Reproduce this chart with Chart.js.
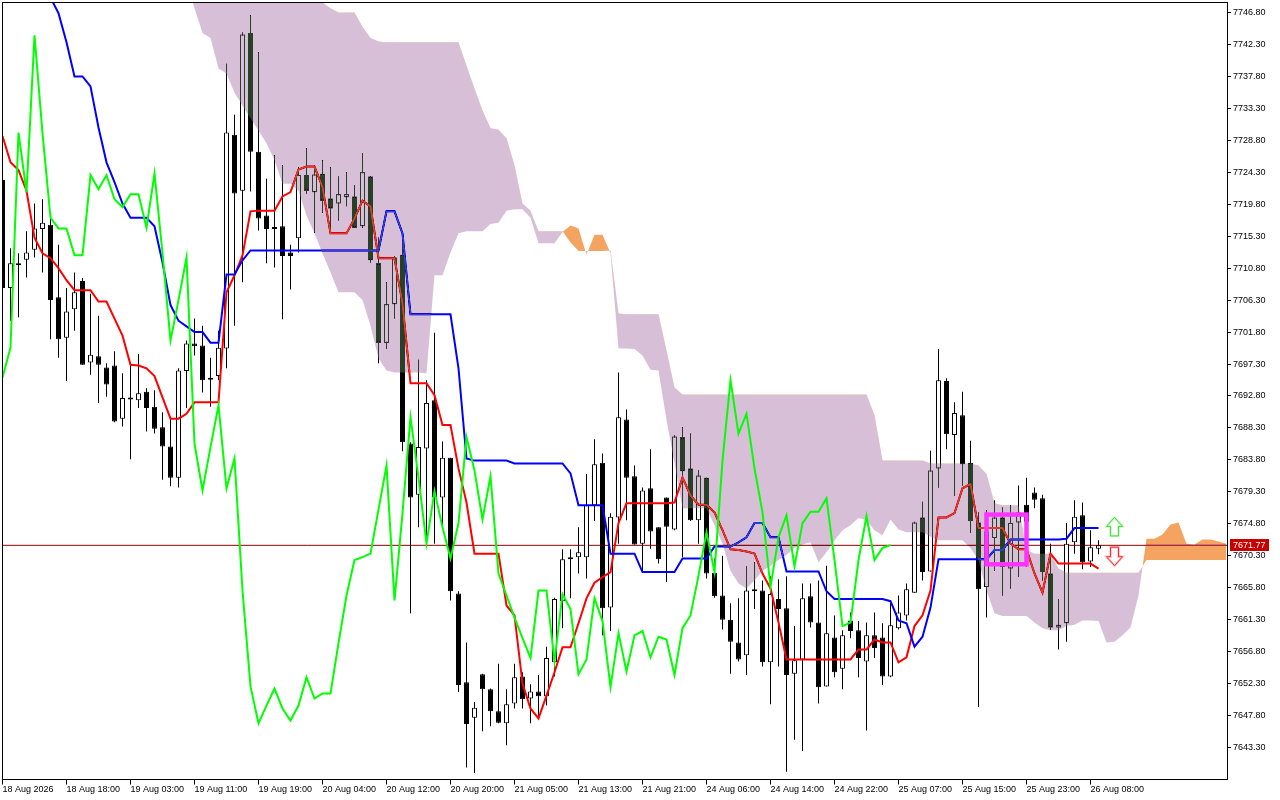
<!DOCTYPE html>
<html>
<head>
<meta charset="utf-8">
<style>
  html, body { margin: 0; padding: 0; background: #fff; }
  canvas { display: block; }
</style>
<script src="https://cdn.jsdelivr.net/npm/chart.js@4"></script>
</head>
<body>
<canvas id="graphique" width="1280" height="800"></canvas>
<script>
const timeLabels = ["18 Aug 2026", "18 Aug 18:00", "19 Aug 03:00", "19 Aug 11:00", "19 Aug 19:00", "20 Aug 04:00", "20 Aug 12:00", "20 Aug 20:00", "21 Aug 05:00", "21 Aug 13:00", "21 Aug 21:00", "24 Aug 06:00", "24 Aug 14:00", "24 Aug 22:00", "25 Aug 07:00", "25 Aug 15:00", "25 Aug 23:00", "26 Aug 08:00"];
const barsPerLabel = 8;
const priceTicks = [7746.8, 7742.3, 7737.8, 7733.3, 7728.8, 7724.3, 7719.8, 7715.3, 7710.8, 7706.3, 7701.8, 7697.3, 7692.8, 7688.3, 7683.8, 7679.3, 7674.8, 7670.3, 7665.8, 7661.3, 7656.8, 7652.3, 7647.8, 7643.3];
const lastPrice = 7671.77;

const opens = [
  7723.2, 7708.0, 7711.3, 7712.0, 7713.4, 7716.3, 7716.9, 7706.7, 7701.0, 7705.0,
  7709.0, 7697.5, 7698.4, 7696.8, 7697.1, 7689.6, 7692.6, 7692.2, 7693.4, 7691.3,
  7688.4, 7685.7, 7681.3, 7696.3, 7700.2, 7699.9, 7695.3, 7695.6, 7699.5, 7729.6,
  7721.7, 7743.9, 7727.2, 7718.2, 7716.5, 7716.7, 7713.0, 7715.0, 7723.9, 7721.5,
  7724.1, 7720.6, 7719.9, 7720.8, 7720.9, 7716.7, 7723.7, 7711.5, 7700.3, 7705.7,
  7712.7, 7686.1, 7678.9, 7685.4, 7692.2, 7678.5, 7684.1, 7665.0, 7652.5, 7647.5,
  7653.6, 7651.5, 7648.4, 7646.7, 7649.5, 7653.3, 7650.2, 7651.2, 7650.5, 7655.3,
  7663.9, 7669.8, 7670.1, 7670.1, 7677.4, 7683.4, 7663.0, 7675.7, 7689.5, 7681.5,
  7672.0, 7679.8, 7674.3, 7678.5, 7674.0, 7687.0, 7682.6, 7675.3, 7681.3, 7667.9,
  7664.7, 7661.3, 7658.1, 7656.3, 7665.4, 7665.4, 7655.3, 7664.2, 7662.9, 7653.7,
  7655.7, 7664.6, 7660.9, 7651.9, 7658.8, 7654.4, 7661.2, 7659.8, 7655.4, 7659.1,
  7658.8, 7653.3, 7660.1, 7661.9, 7665.1, 7675.7, 7668.1, 7682.6, 7694.9, 7687.3,
  7690.1, 7683.4, 7675.0, 7665.9, 7672.8, 7675.7, 7668.5, 7675.0, 7677.5, 7679.2,
  7678.4, 7667.8, 7660.2, 7660.8, 7672.2, 7676.0, 7669.5, 7671.3
];
const closes = [
  7708.0, 7711.5, 7711.2, 7713.0, 7716.4, 7717.2, 7706.3, 7700.8, 7704.7, 7707.4,
  7697.2, 7698.6, 7697.2, 7694.4, 7689.2, 7692.5, 7692.3, 7693.2, 7691.1, 7688.2,
  7685.7, 7681.3, 7696.4, 7700.2, 7699.8, 7695.0, 7695.1, 7699.6, 7729.9, 7721.3,
  7743.7, 7727.2, 7717.8, 7716.3, 7716.3, 7712.5, 7712.5, 7723.9, 7721.7, 7724.0,
  7720.3, 7719.2, 7721.2, 7721.2, 7716.5, 7724.3, 7711.9, 7700.3, 7705.7, 7712.3,
  7686.3, 7678.5, 7685.6, 7691.8, 7678.5, 7684.1, 7665.3, 7652.1, 7646.6, 7648.9,
  7651.5, 7648.4, 7646.8, 7649.4, 7653.2, 7650.1, 7651.2, 7650.5, 7655.9, 7664.2,
  7669.8, 7670.1, 7670.8, 7677.4, 7683.2, 7662.9, 7675.8, 7689.8, 7681.3, 7671.9,
  7679.5, 7673.7, 7669.8, 7674.4, 7687.1, 7682.2, 7675.3, 7681.6, 7667.8, 7664.6,
  7661.3, 7658.2, 7655.7, 7665.4, 7665.3, 7655.3, 7664.9, 7662.8, 7653.5, 7655.6,
  7664.3, 7660.9, 7651.8, 7659.4, 7653.9, 7659.1, 7659.7, 7655.9, 7659.1, 7657.3,
  7653.3, 7660.5, 7662.3, 7665.6, 7675.0, 7668.0, 7682.3, 7695.0, 7687.4, 7690.4,
  7683.2, 7675.2, 7665.6, 7673.7, 7675.7, 7668.7, 7674.9, 7676.4, 7675.1, 7678.2,
  7668.0, 7660.2, 7660.6, 7672.0, 7675.8, 7669.4, 7671.5, 7671.77
];
const highs = [
  7723.2, 7713.6, 7712.9, 7716.0, 7719.9, 7720.5, 7717.8, 7714.1, 7708.0, 7710.2,
  7709.4, 7707.2, 7704.1, 7697.4, 7699.1, 7696.0, 7697.5, 7698.7, 7693.9, 7693.6,
  7690.5, 7689.6, 7696.7, 7700.6, 7703.7, 7702.7, 7698.2, 7702.0, 7739.6, 7732.4,
  7744.0, 7746.4, 7741.2, 7723.4, 7726.7, 7725.3, 7714.1, 7725.0, 7727.7, 7725.3,
  7726.0, 7725.0, 7723.7, 7724.3, 7722.5, 7727.0, 7723.7, 7715.1, 7708.8, 7712.5,
  7714.3, 7686.3, 7697.9, 7695.0, 7701.7, 7686.4, 7684.1, 7665.3, 7658.1, 7649.7,
  7653.7, 7651.6, 7655.1, 7651.5, 7655.1, 7653.9, 7652.2, 7653.5, 7657.5, 7664.4,
  7671.2, 7671.2, 7674.3, 7681.8, 7686.7, 7684.7, 7676.3, 7696.1, 7690.9, 7683.0,
  7679.9, 7685.3, 7674.3, 7678.5, 7687.3, 7688.4, 7687.5, 7682.3, 7681.3, 7669.9,
  7670.3, 7663.6, 7664.3, 7668.8, 7669.4, 7666.8, 7667.4, 7667.0, 7667.4, 7660.4,
  7666.4, 7666.4, 7666.8, 7668.9, 7661.9, 7659.8, 7662.3, 7661.1, 7660.9, 7662.3,
  7660.8, 7663.6, 7664.7, 7666.4, 7675.1, 7677.9, 7685.1, 7699.4, 7695.3, 7691.9,
  7693.4, 7686.5, 7676.4, 7676.7, 7678.1, 7677.1, 7677.4, 7680.2, 7681.3, 7679.9,
  7678.9, 7672.0, 7664.2, 7674.9, 7678.1, 7677.8, 7673.9, 7672.5
];
const lows = [
  7707.7, 7703.4, 7703.9, 7709.5, 7712.3, 7710.2, 7700.8, 7698.2, 7694.9, 7702.0,
  7697.2, 7695.8, 7691.8, 7692.7, 7689.1, 7688.5, 7683.9, 7691.1, 7687.8, 7687.5,
  7681.0, 7680.1, 7679.9, 7691.1, 7698.5, 7693.3, 7691.3, 7695.0, 7696.7, 7702.7,
  7708.8, 7721.6, 7716.1, 7711.5, 7710.9, 7703.6, 7707.8, 7713.0, 7721.3, 7715.8,
  7718.6, 7716.5, 7717.5, 7719.5, 7716.5, 7716.5, 7711.6, 7697.4, 7699.4, 7703.7,
  7685.0, 7662.2, 7674.3, 7672.0, 7672.0, 7674.6, 7664.0, 7651.1, 7640.5, 7639.7,
  7645.6, 7646.3, 7646.7, 7643.6, 7648.8, 7648.8, 7646.7, 7647.4, 7649.2, 7653.3,
  7660.1, 7664.3, 7667.8, 7667.1, 7675.2, 7659.1, 7659.7, 7672.0, 7675.3, 7671.9,
  7668.0, 7671.3, 7669.2, 7666.6, 7673.9, 7670.1, 7675.2, 7672.0, 7667.1, 7664.4,
  7659.9, 7653.7, 7655.4, 7653.5, 7662.8, 7654.7, 7649.4, 7654.7, 7639.9, 7644.4,
  7642.8, 7660.2, 7649.5, 7651.9, 7653.2, 7651.5, 7658.7, 7653.2, 7645.7, 7655.9,
  7652.1, 7653.2, 7659.9, 7661.2, 7665.1, 7666.8, 7668.1, 7679.9, 7685.3, 7678.7,
  7680.2, 7673.5, 7649.0, 7661.6, 7668.2, 7664.7, 7665.7, 7667.3, 7668.8, 7677.0,
  7666.8, 7659.9, 7657.1, 7658.2, 7670.6, 7668.4, 7668.7, 7670.5
];

// Ichimoku lines
const tenkan = [
  7729.4, 7725.7, 7724.6, 7721.7, 7715.1, 7712.9, 7712.2, 7710.8, 7709.1, 7707.7,
  7707.7, 7707.7, 7706.1, 7706.1, 7703.7, 7701.3, 7697.2, 7697.1, 7696.7, 7695.6,
  7692.6, 7689.6, 7689.6, 7690.3, 7691.9, 7691.9, 7691.9, 7691.9, 7707.4, 7709.8,
  7712.6, 7718.8, 7718.9, 7718.9, 7718.9, 7720.9, 7721.5, 7724.7, 7725.1, 7725.1,
  7722.2, 7715.7, 7715.7, 7715.7, 7717.8, 7720.3, 7719.5, 7712.2, 7712.2, 7712.2,
  7705.8, 7694.6, 7694.6, 7694.6, 7692.9, 7688.7, 7688.7, 7682.6, 7677.8, 7670.6,
  7670.6, 7670.6, 7670.6, 7663.3, 7661.9, 7652.3, 7648.8, 7647.4, 7650.6, 7653.9,
  7657.4, 7657.4, 7660.8, 7664.3, 7666.5, 7667.3, 7668.0, 7674.9, 7677.7, 7677.7,
  7677.7, 7677.7, 7677.7, 7677.7, 7677.8, 7681.3, 7678.8, 7677.5, 7677.5, 7676.4,
  7673.9, 7671.2, 7671.1, 7670.9, 7670.6, 7667.8, 7665.7, 7660.9, 7655.7, 7655.7,
  7655.7, 7655.7, 7655.7, 7655.7, 7655.7, 7655.7, 7655.7, 7657.1, 7657.1, 7658.5,
  7658.1, 7658.1, 7655.3, 7656.0, 7660.4, 7661.9, 7665.4, 7675.7, 7675.7, 7676.3,
  7679.8, 7680.4, 7674.2, 7674.2, 7674.2, 7674.2, 7672.0, 7671.2, 7671.2, 7667.8,
  7665.1, 7670.6, 7669.2, 7669.2, 7669.2, 7669.2, 7669.2, 7668.5
];
const kijun = [
  7760.0, 7758.0, 7757.0, 7756.0, 7754.0, 7752.0, 7748.9, 7746.7, 7742.6, 7737.8,
  7737.8, 7736.4, 7730.6, 7725.7, 7722.9, 7719.9, 7717.9, 7717.9, 7717.9, 7716.7,
  7711.6, 7705.6, 7703.4, 7702.6, 7701.8, 7701.8, 7700.3, 7700.3, 7709.9, 7709.9,
  7711.9, 7713.3, 7713.3, 7713.3, 7713.3, 7713.3, 7713.3, 7713.3, 7713.3, 7713.3,
  7713.3, 7713.3, 7713.3, 7713.3, 7713.3, 7713.3, 7713.3, 7713.3, 7718.8, 7718.8,
  7715.7, 7704.3, 7704.3, 7704.3, 7704.3, 7704.3, 7704.3, 7696.7, 7684.0, 7683.7,
  7683.7, 7683.7, 7683.7, 7683.7, 7683.3, 7683.3, 7683.3, 7683.3, 7683.3, 7683.3,
  7683.3, 7681.9, 7677.4, 7677.4, 7677.4, 7677.4, 7670.6, 7670.6, 7670.6, 7670.6,
  7668.0, 7668.0, 7668.0, 7668.0, 7668.0, 7669.9, 7669.9, 7669.9, 7669.9, 7671.6,
  7671.6, 7671.6, 7672.2, 7672.9, 7674.9, 7674.9, 7672.9, 7672.9, 7668.1, 7668.1,
  7668.1, 7668.1, 7668.1, 7665.3, 7664.2, 7664.2, 7664.2, 7664.2, 7664.2, 7664.2,
  7664.2, 7663.9, 7661.2, 7660.8, 7657.5, 7658.9, 7663.0, 7669.8, 7669.8, 7669.8,
  7669.8, 7669.8, 7669.8, 7669.8, 7671.1, 7671.1, 7672.6, 7672.6, 7672.6, 7672.6,
  7672.6, 7672.6, 7672.6, 7672.7, 7674.2, 7674.2, 7674.2, 7674.2
];
const chikou = [
  7695.4, 7699.6, 7729.9, 7721.5, 7743.6, 7729.8, 7717.9, 7716.4, 7716.4, 7712.6,
  7712.6, 7723.9, 7721.9, 7723.9, 7720.5, 7719.4, 7721.2, 7721.2, 7716.5, 7724.1,
  7712.9, 7700.6, 7706.3, 7712.3, 7686.1, 7679.5, 7685.6, 7691.5, 7679.8, 7684.0,
  7665.4, 7651.9, 7646.7, 7649.2, 7651.6, 7648.8, 7647.1, 7649.2, 7653.2, 7650.2,
  7650.9, 7650.9, 7658.0, 7664.7, 7669.7, 7670.1, 7670.6, 7676.8, 7683.0, 7664.0,
  7676.3, 7689.8, 7681.3, 7672.0, 7679.4, 7674.3, 7669.9, 7674.9, 7687.0, 7682.3,
  7675.4, 7681.5, 7667.8, 7664.7, 7661.6, 7658.7, 7655.9, 7665.4, 7665.4, 7655.4,
  7664.9, 7662.8, 7653.6, 7655.7, 7664.3, 7661.1, 7651.8, 7659.4, 7654.0, 7659.1,
  7659.7, 7656.0, 7658.9, 7658.5, 7653.5, 7660.1, 7661.9, 7667.5, 7673.6, 7668.0,
  7683.7, 7695.0, 7687.5, 7690.3, 7682.6, 7676.4, 7665.9, 7672.9, 7676.0, 7668.8,
  7674.9, 7676.5, 7676.5, 7678.4, 7669.7, 7660.4, 7660.9, 7669.7, 7675.9, 7669.7,
  7671.4, 7671.8
];

// cloud starts at bar 23 and runs 16 bars past the last candle
const spanStart = 23;
const spanA = [
  7751.0, 7747.4, 7743.9, 7743.2, 7738.9, 7738.2, 7735.5, 7733.7, 7731.9, 7730.2,
  7728.4, 7726.0, 7722.7, 7722.7, 7721.7, 7718.2, 7715.7, 7712.9, 7710.2, 7707.4,
  7707.4, 7707.4, 7706.3, 7702.7, 7698.1, 7696.4, 7696.1, 7696.1, 7696.1, 7696.1,
  7696.0, 7709.8, 7709.8, 7713.0, 7715.7, 7716.0, 7716.0, 7716.0, 7717.0, 7717.2,
  7718.9, 7719.1, 7719.1, 7717.9, 7714.3, 7714.3, 7714.3, 7715.9, 7716.8, 7716.4,
  7712.7, 7715.5, 7715.5, 7712.9, 7699.5, 7699.5, 7699.4, 7698.5, 7696.5, 7696.4,
  7689.4, 7683.4, 7677.0, 7677.0, 7677.0, 7677.0, 7674.6, 7672.0, 7668.2, 7666.4,
  7665.7, 7666.8, 7668.2, 7668.9, 7669.7, 7670.4, 7671.4, 7671.9, 7672.2, 7669.4,
  7670.8, 7672.5, 7673.9, 7674.6, 7675.6, 7675.3, 7673.9, 7673.2, 7675.4, 7674.0,
  7673.6, 7673.6, 7673.6, 7673.0, 7672.5, 7672.5, 7672.5, 7672.5, 7671.4, 7669.7,
  7665.4, 7662.2, 7661.8, 7661.8, 7661.8, 7661.8, 7660.9, 7660.1, 7659.8, 7659.8,
  7660.4, 7660.6, 7661.2, 7661.2, 7661.1, 7658.1, 7658.2, 7659.1, 7660.2, 7664.7,
  7672.7, 7672.7, 7673.3, 7674.7, 7675.0, 7672.0, 7671.9, 7672.6, 7672.6, 7672.3,
  7672.0
];
const spanB = [
  7752.7, 7752.7, 7752.7, 7752.7, 7752.7, 7752.7, 7752.7, 7752.7, 7752.7, 7752.7,
  7752.7, 7752.7, 7752.7, 7752.7, 7752.7, 7752.7, 7752.7, 7748.2, 7747.4, 7746.8,
  7746.8, 7746.8, 7744.8, 7743.2, 7742.7, 7742.6, 7742.6, 7742.6, 7742.6, 7742.6,
  7742.6, 7742.6, 7742.6, 7742.6, 7742.6, 7739.3, 7736.1, 7733.0, 7730.5, 7730.3,
  7729.1, 7725.3, 7719.9, 7718.9, 7716.0, 7716.0, 7716.0, 7716.0, 7714.4, 7713.2,
  7713.2, 7713.2, 7713.2, 7713.3, 7704.4, 7704.3, 7704.3, 7704.3, 7704.3, 7704.3,
  7699.2, 7694.0, 7693.0, 7693.0, 7693.0, 7693.0, 7693.0, 7693.0, 7693.0, 7693.0,
  7693.0, 7693.0, 7693.0, 7693.0, 7693.0, 7693.0, 7693.0, 7693.0, 7693.0, 7693.0,
  7693.0, 7693.0, 7693.0, 7693.0, 7693.0, 7693.0, 7690.1, 7683.7, 7683.7, 7683.7,
  7683.7, 7683.7, 7683.7, 7683.3, 7683.3, 7683.3, 7683.3, 7683.3, 7683.3, 7683.0,
  7681.8, 7677.7, 7677.4, 7677.4, 7677.4, 7671.1, 7670.6, 7670.6, 7670.6, 7668.5,
  7667.9, 7667.9, 7667.9, 7667.9, 7667.9, 7667.9, 7667.9, 7667.9, 7667.9, 7667.9,
  7669.7, 7669.7, 7669.7, 7669.7, 7669.7, 7669.7, 7669.7, 7669.7, 7669.7, 7669.7,
  7669.7
];

// pink box and the two signal arrows
const boxFirstBar = 123;
const boxLastBar = 128;
const boxHigh = 7676.1;
const boxLow = 7669.1;
const arrowBar = 139;
const arrowUpTip = 7675.7;
const arrowDownTip = 7668.9;

const axisFont = { family: "'Liberation Sans', Arial, sans-serif", size: 9 };

const serie = (valeurs, debut = 0) => valeurs.map((y, i) => ({ x: i + debut, y: y }));
const bougies = (a, b) => a.map((v, i) => ({ x: i, y: [Math.min(v, b[i]), Math.max(v, b[i])] }));

// the cloud inverts what is under it, like the terminal does
const cloudBlend = {
  id: "cloudBlend",
  beforeDraw(chart) {
    const ctx = chart.ctx;
    ctx.save();
    ctx.fillStyle = "#fff";
    ctx.fillRect(0, 0, chart.width, chart.height);
    ctx.restore();
  },
  afterDatasetDraw(chart, args) {
    const label = chart.data.datasets[args.index].label;
    if (label === "Senkou B") chart.ctx.globalCompositeOperation = "difference";
    if (label === "Senkou A") chart.ctx.globalCompositeOperation = "source-over";
  }
};

function fleche(ctx, x, tip, sens, couleur, reflet) {
  const pts = [[0, 0], [8, 9], [4, 9], [4, 18.5], [-4, 18.5], [-4, 9], [-8, 9]];
  ctx.beginPath();
  pts.forEach((p, i) => {
    const px = x + p[0];
    const py = tip + sens * p[1];
    if (i === 0) ctx.moveTo(px, py);
    else ctx.lineTo(px, py);
  });
  ctx.closePath();
  ctx.fillStyle = "#fff";
  ctx.fill();
  ctx.strokeStyle = reflet;
  ctx.lineWidth = 2.4;
  ctx.stroke();
  ctx.strokeStyle = couleur;
  ctx.lineWidth = 1;
  ctx.stroke();
}

const decorations = {
  id: "decorations",
  afterDatasetsDraw(chart) {
    const ctx = chart.ctx;
    const x = chart.scales.x;
    const y = chart.scales.y;
    const area = chart.chartArea;

    ctx.save();
    ctx.strokeStyle = "#FF33FF";
    ctx.lineWidth = 4.5;
    ctx.strokeRect(
      x.getPixelForValue(boxFirstBar),
      y.getPixelForValue(boxHigh),
      x.getPixelForValue(boxLastBar) - x.getPixelForValue(boxFirstBar),
      y.getPixelForValue(boxLow) - y.getPixelForValue(boxHigh)
    );

    fleche(ctx, x.getPixelForValue(arrowBar), y.getPixelForValue(arrowUpTip), 1, "#44DD44", "#C8F5C0");
    fleche(ctx, x.getPixelForValue(arrowBar), y.getPixelForValue(arrowDownTip), -1, "#FF2A2A", "#FFC0C8");

    ctx.strokeStyle = "#000";
    ctx.lineWidth = 1;
    ctx.strokeRect(area.left + 0.5, area.top, area.right - area.left, area.bottom - area.top);
    ctx.restore();
  },
  afterDraw(chart) {
    // last price flag on the axis
    const ctx = chart.ctx;
    const py = Math.round(chart.scales.y.getPixelForValue(lastPrice));
    ctx.save();
    ctx.fillStyle = "#C80000";
    ctx.fillRect(1230, py - 6, 39, 12);
    ctx.fillStyle = "#fff";
    ctx.font = axisFont.size + "px " + axisFont.family;
    ctx.textBaseline = "middle";
    ctx.fillText(lastPrice.toFixed(2), 1233, py + 0.5);
    ctx.restore();
  }
};

const graphique = new Chart(document.querySelector("#graphique"), {
  type: "bar",
  data: {
    datasets: [
      { type: "line", label: "Chikou", data: serie(chikou), borderColor: "#00FF00", borderWidth: 2, pointRadius: 0, order: 1 },
      { type: "line", label: "Senkou A", data: serie(spanA, spanStart), borderWidth: 0, pointRadius: 0, order: 2,
        fill: { target: "+1", above: "#0B5B9F", below: "#274027" } },
      { type: "line", label: "Senkou B", data: serie(spanB, spanStart), borderWidth: 0, pointRadius: 0, order: 3, fill: false },
      { type: "line", label: "Kijun", data: serie(kijun), borderColor: "#0000FF", borderWidth: 2, pointRadius: 0, order: 4 },
      { type: "line", label: "Tenkan", data: serie(tenkan), borderColor: "#FF0000", borderWidth: 2, pointRadius: 0, order: 5 },
      { type: "bar", label: "Corps", data: bougies(opens, closes), grouped: false, barThickness: 5, minBarLength: 2,
        backgroundColor: closes.map((c, i) => c >= opens[i] ? "#FFFFFF" : "#000000"),
        borderColor: "#000000", borderWidth: 1, borderSkipped: false, inflateAmount: 0, order: 6 },
      { type: "bar", label: "Meches", data: bougies(lows, highs), grouped: false, barThickness: 1,
        backgroundColor: "#000000", borderWidth: 0, inflateAmount: 0, order: 7 },
      { type: "line", label: "Dernier", data: [{ x: -1, y: lastPrice }, { x: 154, y: lastPrice }],
        borderColor: "#900000", borderWidth: 1, pointRadius: 0, order: 8 }
    ]
  },
  options: {
    responsive: false,
    animation: false,
    devicePixelRatio: 1,
    layout: { padding: { top: 2.5, left: 2, right: 0, bottom: 0 } },
    plugins: { legend: { display: false }, tooltip: { enabled: false } },
    scales: {
      x: {
        type: "linear",
        offset: false,
        min: -0.0625,
        max: 153.0625,
        grid: { drawOnChartArea: false, offset: false, color: "#000", tickLength: 5 },
        border: { display: false },
        afterBuildTicks: (axis) => { axis.ticks = timeLabels.map((t, i) => ({ value: i * barsPerLabel })); },
        afterFit: (axis) => { axis.height = 20.5; axis.paddingLeft = 0; axis.paddingRight = 0; },
        ticks: {
          autoSkip: false,
          maxRotation: 0,
          align: "start",
          padding: 0,
          color: "#000",
          font: axisFont,
          callback: (value) => timeLabels[value / barsPerLabel]
        }
      },
      y: {
        type: "linear",
        position: "right",
        min: 7638.793,
        max: 7748.208,
        grid: { drawOnChartArea: false, color: "#000", tickLength: 4 },
        border: { display: false },
        afterBuildTicks: (axis) => { axis.ticks = priceTicks.map((p) => ({ value: p })); },
        afterFit: (axis) => { axis.width = 53; axis.paddingTop = 0; axis.paddingBottom = 0; },
        ticks: {
          autoSkip: false,
          padding: 2,
          color: "#000",
          font: axisFont,
          callback: (value) => value.toFixed(2)
        }
      }
    }
  },
  plugins: [cloudBlend, decorations]
});
</script>
</body>
</html>
